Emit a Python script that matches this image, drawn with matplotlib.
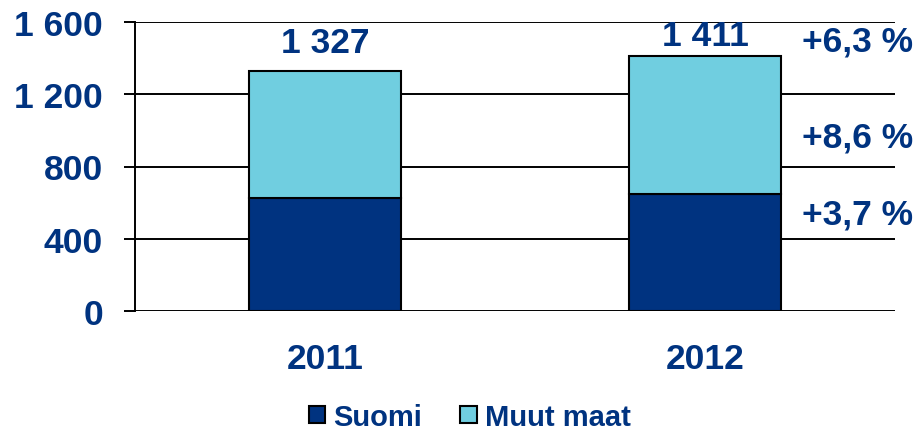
import matplotlib
matplotlib.use("Agg")
import matplotlib.pyplot as plt
import numpy as np

categories = ["2011", "2012"]
suomi = [624, 647]
muut_maat = [703, 764]
totals = [1327, 1411]
total_labels = ["1 327", "1 411"]
yticks = [0, 400, 800, 1200, 1600]
ytick_labels = ["0", "400", "800", "1 200", "1 600"]
growth_labels = ["+6,3 %", "+8,6 %", "+3,7 %"]
series_names = ["Suomi", "Muut maat"]

DARK = "#003380"
LIGHT = "#70CEE0"
plt.rcParams['font.family'] = ['Liberation Sans', 'DejaVu Sans']
plt.rcParams['font.weight'] = 'bold'

fig = plt.figure(figsize=(9.21, 4.31), dpi=100)
ax = fig.add_axes([135/921, 1-312/431, (895-135)/921, (312-23)/431])

x = np.arange(len(categories))
w = 0.4
ax.bar(x, suomi, width=w, color=DARK, edgecolor="black", linewidth=1.5, label=series_names[0], zorder=3)
ax.bar(x, muut_maat, width=w, bottom=suomi, color=LIGHT, edgecolor="black", linewidth=1.5, label=series_names[1], zorder=3)

ax.set_xlim(-0.5, 1.5)
ax.set_ylim(0, 1600)
ax.set_yticks(yticks)
ax.set_yticklabels(ytick_labels)
ax.set_xticks(x)
ax.set_xticklabels(categories)
ax.yaxis.grid(True, color="black", linewidth=1.4, zorder=0)
ax.set_axisbelow(True)
for s in ["top", "right", "bottom"]:
    ax.spines[s].set_visible(False)
ax.spines["left"].set_linewidth(1.4)
ax.tick_params(axis="y", length=8, width=1.4, pad=15, labelsize=25.5, labelcolor=DARK)
ax.tick_params(axis="x", length=0, pad=22, labelsize=25.5, labelcolor=DARK)
for lab in ax.get_xticklabels() + ax.get_yticklabels():
    lab.set_fontweight("bold")

offsets = [9, 3]
for xi, t, lab, off in zip(x, totals, total_labels, offsets):
    ax.annotate(lab, (xi, t), xytext=(0, off), textcoords="offset points",
                ha="center", va="bottom", fontsize=25.5, fontweight="bold", color=DARK)

growth_y = [42, 138, 215]
for lab, py in zip(growth_labels, growth_y):
    fig.text(802/921, 1-py/431, lab, ha="left", va="center", fontsize=25.5,
             fontweight="bold", color=DARK)

leg = fig.legend(loc="center", bbox_to_anchor=(470/921, 1-418/431), ncol=2, frameon=False,
                 prop={"size": 21, "weight": "bold"}, handlelength=0.55, handleheight=0.55,
                 handletextpad=0.3, columnspacing=1.3)
for t in leg.get_texts():
    t.set_color(DARK)

fig.savefig("out.png", dpi=100)
